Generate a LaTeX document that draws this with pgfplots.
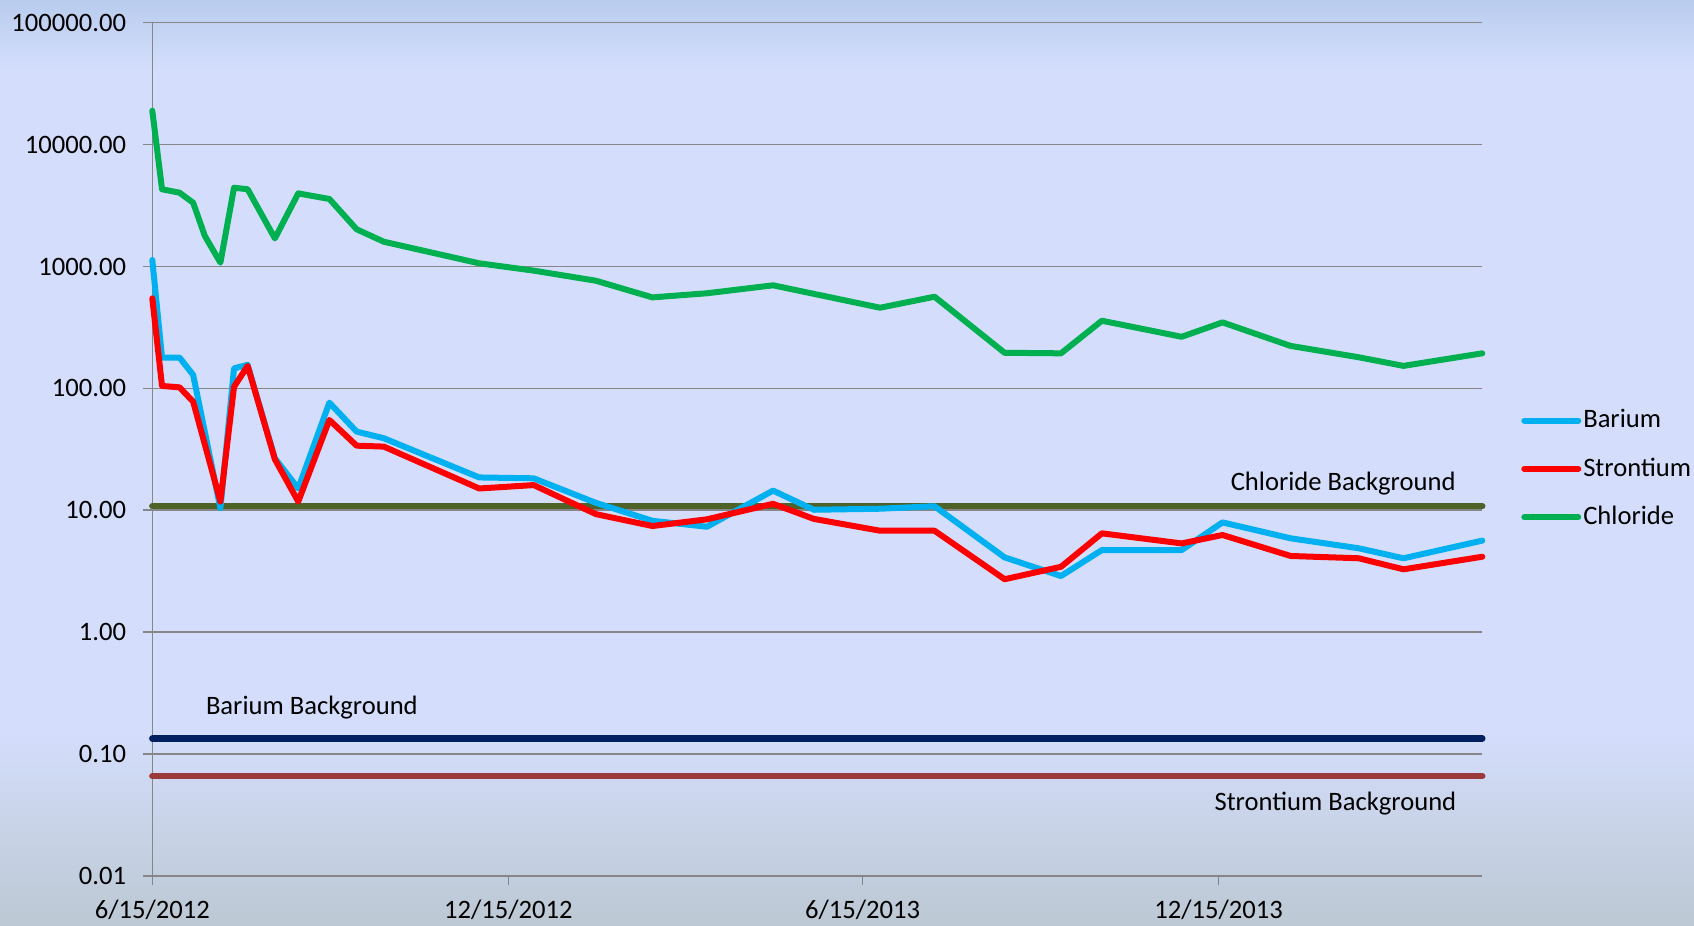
\documentclass[border=0pt]{standalone}
\usepackage{pgfplots}
\pgfplotsset{compat=1.18}
\usepackage{fontspec}
\setmainfont{Carlito}
\definecolor{barium}{HTML}{00B0F0}
\definecolor{stront}{HTML}{FF0000}
\definecolor{chlor}{HTML}{00B050}
\definecolor{chlbg}{HTML}{4F6228}
\definecolor{babg}{HTML}{002060}
\definecolor{srbg}{HTML}{9B3A3A}
\definecolor{gridc}{HTML}{868686}
\definecolor{bgtop}{HTML}{B9CCEE}
\definecolor{bgmid}{HTML}{D4DEFC}
\definecolor{bgbot}{HTML}{BCC8D3}
\begin{document}
\fontsize{13.3}{16}\selectfont
\begin{tikzpicture}
\shade[top color=bgtop,bottom color=bgmid] (0,427pt) rectangle (847pt,463pt);
\fill[bgmid] (0,97pt) rectangle (847pt,428pt);
\shade[top color=bgmid,bottom color=bgbot] (0,0) rectangle (847pt,98pt);
\useasboundingbox (0,0) rectangle (847pt,463pt);
\begin{axis}[
  at={(76.15pt,25pt)}, anchor=south west,
  scale only axis, width=665pt, height=426.65pt,
  xmin=0, xmax=683.5, ymode=log, ymin=0.01, ymax=100000,
  axis x line*=bottom, axis y line*=left,
  axis line style={-, gridc, line width=0.8pt},
  xtick={0,183,365,548},
  xticklabels={6/15/2012,12/15/2012,6/15/2013,12/15/2013},
  ytick={0.01,0.1,1,10,100,1000,10000,100000},
  yticklabels={0.01,0.10,1.00,10.00,100.00,1000.00,10000.00,100000.00},
  ymajorgrids, grid style={gridc, line width=0.8pt},
  yminorticks=false, xminorticks=false,
  tick align=outside, major tick length=4.5pt,
  tick style={gridc, line width=0.8pt},
  xticklabel style={yshift=-3pt},
  yticklabel style={xshift=-4pt},
  clip=false,
  legend cell align=left,
  legend style={at={(1.0290,0.4770)}, anchor=west, draw=none, fill=none,
    row sep=9pt, inner sep=0pt, nodes={inner xsep=1pt}},
  legend image code/.code={\draw[#1,line cap=round] (0pt,0pt) -- (27pt,0pt);},
  every axis plot/.append style={line width=3pt, line cap=round, line join=round},
]
\addplot[chlbg, line width=3.2pt, forget plot] coordinates {(0,10.8) (683.5,10.8)};
\addplot[babg, line width=3.2pt, forget plot] coordinates {(0,0.134) (683.5,0.134)};
\addplot[srbg, line width=3.2pt, forget plot] coordinates {(0,0.066) (683.5,0.066)};
\addplot[barium] coordinates {
(0,1130) (5,179) (14,179) (21,129) (35,10.4) (42,146) (49,156) (63,26.7) (75,15.1)
(91,76.4) (105,44.2) (119,39) (168,18.6) (196,18.3) (228,11.5) (257,8.2) (285,7.33)
(319,14.5) (340,10.1) (374,10.3) (402,10.8) (438,4.11) (467,2.89) (488,4.72) (529,4.72)
(550,7.96) (585,5.89) (620,4.88) (643,4.04) (683.5,5.64)};
\addlegendentry{Barium}
\addplot[stront] coordinates {
(0,548) (5,104.7) (14,102) (21,77.8) (35,11.8) (42,103) (49,153) (63,26.2) (75,11.8)
(91,55.1) (105,33.9) (119,33.3) (168,15.1) (196,16.1) (228,9.3) (257,7.43) (285,8.43)
(319,11.3) (340,8.5) (374,6.8) (402,6.8) (438,2.72) (467,3.44) (488,6.47) (529,5.35)
(550,6.27) (585,4.22) (620,4.04) (643,3.28) (683.5,4.16)};
\addlegendentry{Strontium}
\addplot[chlor] coordinates {
(0,18970) (5,4300) (14,4030) (21,3335) (27,1780) (35,1075) (42,4430) (49,4300) (63,1700)
(75,3980) (91,3580) (105,2020) (119,1596) (168,1062) (196,925) (228,764) (257,558)
(285,603) (319,701) (374,459) (402,565) (438,196) (467,194) (488,359) (529,265)
(550,348) (585,223) (620,180) (643,153) (683.5,194)};
\addlegendentry{Chloride}
\node at (axis cs:82,0.239) {Barium Background};
\node at (axis cs:612,16.7) {Chloride Background};
\node at (axis cs:608,0.0391) {Strontium Background};
\end{axis}
\end{tikzpicture}
\end{document}
